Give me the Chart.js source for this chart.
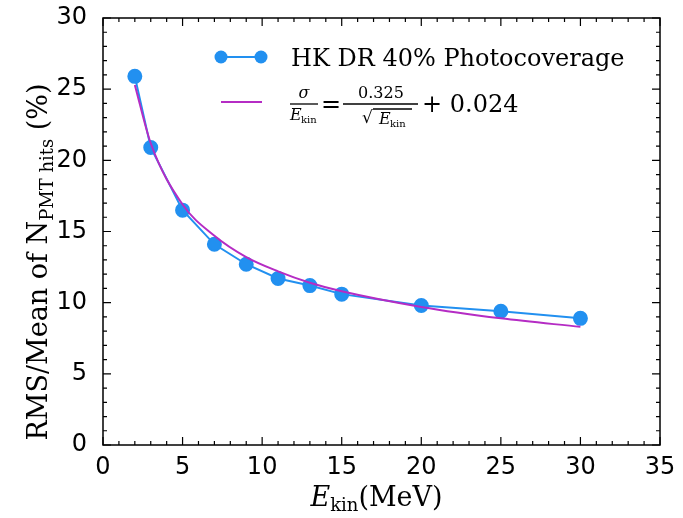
<!DOCTYPE html>
<html>
<head>
<meta charset="utf-8">
<script src="https://cdn.jsdelivr.net/npm/chart.js@4.4.1/dist/chart.umd.min.js"></script>
<style>
  html, body { margin: 0; padding: 0; background: #fff; }
  #wrap { width: 683px; height: 518px; }
</style>
</head>
<body>
<div id="wrap"><canvas id="resChart" width="683" height="518"></canvas></div>
<script>
// measured points (kinetic energy in MeV, resolution in %)
const energies = [2, 3, 5, 7, 9, 11, 13, 15, 20, 25, 30];
const rmsOverMean = [25.9, 20.9, 16.5, 14.1, 12.7, 11.7, 11.2, 10.6, 9.8, 9.4, 8.9];
// fit curve
const fitValues = [25.3, 21.2, 16.9, 14.7, 13.2, 12.2, 11.4, 10.8, 9.7, 8.9, 8.3];
const xTicks = [0, 5, 10, 15, 20, 25, 30, 35];
const yTicks = [0, 5, 10, 15, 20, 25, 30];

const blue = '#2290f0';
const magenta = '#b52cc4';
const serif = '"DejaVu Serif", "Liberation Serif", serif';

// frame, inward ticks on all sides, axis titles and legend
const decor = {
  id: 'decor',
  afterDraw(chart) {
    const ctx = chart.ctx;
    const a = chart.chartArea;
    const xs = chart.scales.x, ys = chart.scales.y;
    ctx.save();
    ctx.strokeStyle = '#000';
    ctx.lineWidth = 1.5;
    ctx.strokeRect(a.left, a.top, a.right - a.left, a.bottom - a.top);
    ctx.lineWidth = 1.2;
    ctx.beginPath();
    for (let v = 0; v <= 35; v++) {
      const p = xs.getPixelForValue(v);
      const len = v % 5 === 0 ? 8 : 4;
      ctx.moveTo(p, a.bottom); ctx.lineTo(p, a.bottom - len);
      ctx.moveTo(p, a.top); ctx.lineTo(p, a.top + len);
    }
    for (let v = 0; v <= 30; v++) {
      const p = ys.getPixelForValue(v);
      const len = v % 5 === 0 ? 8 : 4;
      ctx.moveTo(a.left, p); ctx.lineTo(a.left + len, p);
      ctx.moveTo(a.right, p); ctx.lineTo(a.right - len, p);
    }
    ctx.stroke();

    ctx.fillStyle = '#000';
    ctx.textBaseline = 'alphabetic';

    // x title
    ctx.font = 'italic 27px ' + serif;
    const wE = ctx.measureText('E').width;
    ctx.font = '18px ' + serif;
    const wK = ctx.measureText('kin').width;
    ctx.font = '27px ' + serif;
    const wM = ctx.measureText('(MeV)').width;
    let x0 = (a.left + a.right) / 2 - (wE + wK + wM) / 2 - 5;
    const yb = 506;
    ctx.font = 'italic 27px ' + serif; ctx.fillText('E', x0, yb);
    ctx.font = '18px ' + serif; ctx.fillText('kin', x0 + wE, yb + 5);
    ctx.font = '27px ' + serif; ctx.fillText('(MeV)', x0 + wE + wK, yb);

    // y title
    ctx.save();
    ctx.translate(47, 262);
    ctx.rotate(-Math.PI / 2);
    ctx.font = '27px ' + serif;
    const t1 = 'RMS/Mean of N', t3 = ' (%)';
    const w1 = ctx.measureText(t1).width, w3 = ctx.measureText(t3).width;
    ctx.font = '18px ' + serif;
    const w2 = ctx.measureText('PMT hits').width;
    let s = -(w1 + w2 + w3) / 2;
    ctx.font = '27px ' + serif; ctx.fillText(t1, s, 0);
    ctx.font = '18px ' + serif; ctx.fillText('PMT hits', s + w1, 6);
    ctx.font = '27px ' + serif; ctx.fillText(t3, s + w1 + w2, 0);
    ctx.restore();

    // legend
    ctx.strokeStyle = blue; ctx.lineWidth = 2;
    ctx.beginPath(); ctx.moveTo(221, 57); ctx.lineTo(261, 57); ctx.stroke();
    ctx.fillStyle = blue;
    [221, 261].forEach(px => { ctx.beginPath(); ctx.arc(px, 57, 6.5, 0, Math.PI * 2); ctx.fill(); });
    ctx.fillStyle = '#000';
    ctx.font = '24px ' + serif;
    ctx.fillText('HK DR 40% Photocoverage', 291, 66);

    ctx.strokeStyle = magenta;
    ctx.beginPath(); ctx.moveTo(221, 102); ctx.lineTo(262, 102); ctx.stroke();
    ctx.fillStyle = '#000';
    ctx.strokeStyle = '#000'; ctx.lineWidth = 1.3;
    // sigma / E_kin
    ctx.font = 'italic 16px ' + serif; ctx.textAlign = 'center';
    ctx.fillText('σ', 304, 98);
    ctx.beginPath(); ctx.moveTo(290, 104); ctx.lineTo(318, 104); ctx.stroke();
    ctx.textAlign = 'left';
    ctx.font = 'italic 16px ' + serif; ctx.fillText('E', 290, 120);
    ctx.font = '10px ' + serif; ctx.fillText('kin', 301, 123);
    ctx.font = '24px ' + serif; ctx.fillText('=', 321, 112);
    // 0.325 / sqrt(E_kin)
    ctx.font = '16px ' + serif; ctx.textAlign = 'center';
    ctx.fillText('0.325', 381, 98);
    ctx.beginPath(); ctx.moveTo(343, 104); ctx.lineTo(418, 104); ctx.stroke();
    ctx.textAlign = 'left';
    ctx.font = '17px ' + serif; ctx.fillText('√', 362, 123);
    ctx.beginPath(); ctx.moveTo(373, 109); ctx.lineTo(412, 109); ctx.stroke();
    ctx.font = 'italic 16px ' + serif; ctx.fillText('E', 379, 124);
    ctx.font = '10px ' + serif; ctx.fillText('kin', 390, 127);
    ctx.font = '24px ' + serif; ctx.fillText('+ 0.024', 422, 112);
    ctx.restore();
  }
};

const ctx = document.getElementById('resChart').getContext('2d');
new Chart(ctx, {
  type: 'scatter',
  data: {
    datasets: [{
      label: 'HK DR 40% Photocoverage',
      data: energies.map((e, i) => ({ x: e, y: rmsOverMean[i] })),
      showLine: true,
      borderColor: blue,
      backgroundColor: blue,
      borderWidth: 2,
      pointRadius: 6.5,
      pointHoverRadius: 6.5,
      order: 2
    }, {
      label: 'fit',
      data: energies.map((e, i) => ({ x: e, y: fitValues[i] })),
      showLine: true,
      borderColor: magenta,
      borderWidth: 2,
      pointRadius: 0,
      cubicInterpolationMode: 'monotone',
      order: 1
    }]
  },
  options: {
    responsive: false,
    animation: false,
    events: [],
    layout: { padding: { top: 18, right: 23, left: 0, bottom: 0 } },
    plugins: { legend: { display: false }, tooltip: { enabled: false } },
    scales: {
      x: {
        type: 'linear', min: 0, max: 35,
        afterBuildTicks: s => { s.ticks = xTicks.map(v => ({ value: v })); },
        afterFit: s => { s.height = 73; s.paddingLeft = 0; s.paddingRight = 0; },
        grid: { display: false },
        border: { display: false },
        ticks: { color: '#000', font: { family: '"DejaVu Sans"', size: 24 }, padding: 0, maxRotation: 0 }
      },
      y: {
        min: 0, max: 30,
        afterBuildTicks: s => { s.ticks = yTicks.map(v => ({ value: v })); },
        afterFit: s => { s.width = 103; s.paddingTop = 0; s.paddingBottom = 0; },
        grid: { display: false },
        border: { display: false },
        ticks: { color: '#000', font: { family: '"DejaVu Sans"', size: 24 }, padding: 8 }
      }
    }
  },
  plugins: [decor]
});
</script>
</body>
</html>
